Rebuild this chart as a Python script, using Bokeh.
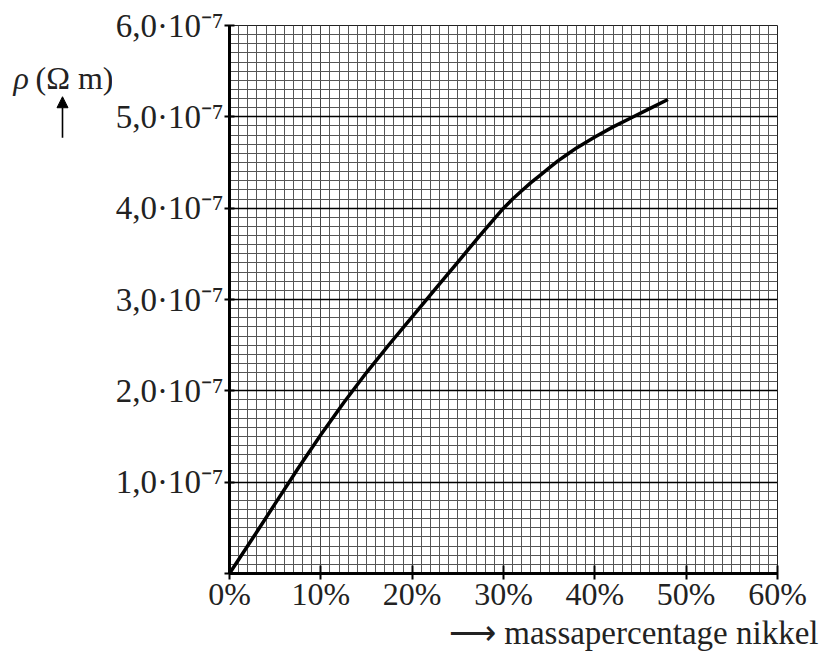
from bokeh.plotting import figure
from bokeh.models import Range1d, FixedTicker, LinearAxis, Arrow, NormalHead
from bokeh.layouts import row
from bokeh.embed import file_html
from bokeh.resources import INLINE
from bokeh.core.properties import value

# data (resistivity in units of 1e-7 ohm m)
nickel_pct = [0, 2.5, 5, 7.5, 10, 12.5, 15, 17.5, 20, 22.5, 25, 27.5, 30, 31, 32, 33, 34, 35,
              36, 37, 38, 39, 40, 42, 44, 46, 48]
rho_e7 = [0, 0.38, 0.765, 1.15, 1.52, 1.87, 2.2, 2.51, 2.81, 3.11, 3.41, 3.71, 4.0, 4.1, 4.19,
          4.28, 4.36, 4.44, 4.52, 4.59, 4.66, 4.72, 4.78, 4.89, 4.99, 5.09, 5.19]

x_ticks = [0, 10, 20, 30, 40, 50, 60]
x_tick_labels = ["0%", "10%", "20%", "30%", "40%", "50%", "60%"]
y_ticks = [0, 1, 2, 3, 4, 5, 6]
y_tick_labels = ["", "1,0·10⁻⁷", "2,0·10⁻⁷", "3,0·10⁻⁷", "4,0·10⁻⁷", "5,0·10⁻⁷", "6,0·10⁻⁷"]
x_minor = list(range(0, 61))
y_minor = [i / 10 for i in range(0, 61)]
y_title_symbol = "ρ"
y_title_unit = "(Ω m)"
x_title = "⟶ massapercentage nikkel"

FONT = "Liberation Serif"
TXT = "#222222"
H = 655
TOP = 25
BOTTOM = 82

# main chart
p = figure(width=711, height=H, x_range=Range1d(0, 60), y_range=Range1d(0, 6),
           output_backend="svg", toolbar_location=None,
           min_border_left=116, min_border_right=46, min_border_top=TOP, min_border_bottom=BOTTOM)
p.background_fill_color = "white"
p.border_fill_color = "white"
p.outline_line_color = "#222222"
p.outline_line_width = 1

p.xaxis.ticker = FixedTicker(ticks=x_ticks, minor_ticks=x_minor)
p.yaxis.ticker = FixedTicker(ticks=y_ticks, minor_ticks=y_minor)
p.xaxis.major_label_overrides = dict(zip(x_ticks, x_tick_labels))
p.yaxis.major_label_overrides = dict(zip(y_ticks, y_tick_labels))

for ax in (p.xaxis[0], p.yaxis[0]):
    ax.axis_line_width = 3
    ax.axis_line_color = "black"
    ax.major_tick_line_width = 2
    ax.major_tick_line_color = "black"
    ax.minor_tick_line_color = None
    ax.major_label_text_font = FONT
    ax.major_label_text_color = TXT

p.xaxis.major_label_text_font_size = "32px"
p.yaxis.major_label_text_font_size = "33px"
p.xaxis.major_tick_in = 8
p.xaxis.major_tick_out = 6
p.xaxis.major_label_standoff = -4
p.yaxis.major_tick_in = 5
p.yaxis.major_tick_out = 5
p.yaxis.major_label_standoff = 1

p.xgrid.grid_line_color = "#444444"
p.xgrid.grid_line_width = 1
p.xgrid.minor_grid_line_color = "#555555"
p.xgrid.minor_grid_line_width = 1
p.ygrid.grid_line_color = "black"
p.ygrid.grid_line_width = 1.6
p.ygrid.minor_grid_line_color = "#555555"
p.ygrid.minor_grid_line_width = 1

p.line(nickel_pct, rho_e7, line_color="black", line_width=3.5, line_join="round")

# x title as an extra axis below the main one
xt_pos = 44.26
xt_axis = LinearAxis(ticker=FixedTicker(ticks=[xt_pos]),
                     major_label_overrides={xt_pos: x_title})
xt_axis.axis_line_color = None
xt_axis.major_tick_line_color = None
xt_axis.minor_tick_line_color = None
xt_axis.major_tick_out = 0
xt_axis.major_tick_in = 0
xt_axis.major_label_standoff = 0
xt_axis.major_label_text_font = FONT
xt_axis.major_label_text_font_size = "33px"
xt_axis.major_label_text_color = TXT
p.add_layout(xt_axis, "below")

# y title with its arrow, in a narrow figure to the left sharing the y range
q = figure(width=112, height=H, x_range=Range1d(0, 112), y_range=p.y_range,
           output_backend="svg", toolbar_location=None,
           x_axis_location=None, y_axis_location=None,
           min_border_left=0, min_border_right=0, min_border_top=TOP, min_border_bottom=BOTTOM)
q.grid.visible = False
q.outline_line_color = None
q.background_fill_color = "white"
q.border_fill_color = "white"
q.text(x=[13], y=[5.42], text=[y_title_symbol], text_font=value(FONT), text_font_size="32px",
       text_font_style="italic", text_color=TXT, text_align="left", text_baseline="middle")
q.text(x=[35], y=[5.42], text=[y_title_unit], text_font=value(FONT), text_font_size="32px",
       text_color=TXT, text_align="left", text_baseline="middle")
q.add_layout(Arrow(x_start=62, y_start=4.77, x_end=62, y_end=5.22, line_width=1.6,
                   line_color="black",
                   end=NormalHead(size=11, fill_color="black", line_color="black")))

layout = row(q, p)
open("out.html", "w").write(file_html(layout, INLINE))
